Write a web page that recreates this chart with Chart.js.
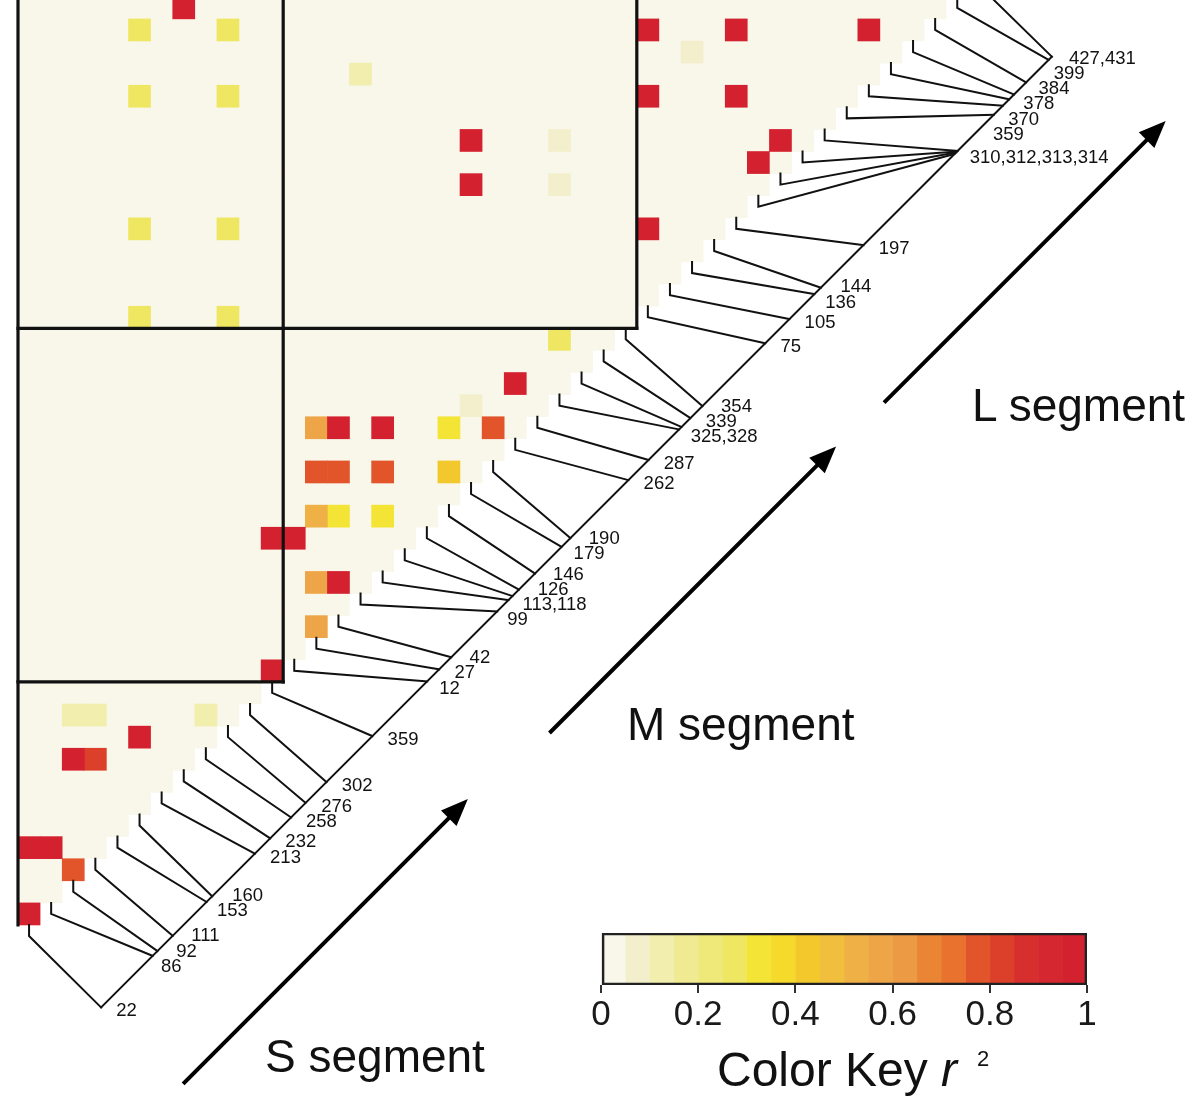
<!DOCTYPE html>
<html>
<head>
<meta charset="utf-8">
<title>LD heatmap</title>
<script src="https://cdn.jsdelivr.net/npm/chart.js@4.4.1/dist/chart.umd.min.js"></script>
<style>
  html, body { margin:0; padding:0; background:#ffffff; }
  #stage { position:relative; width:1200px; height:1099px; overflow:hidden;
           font-family:"Liberation Sans", Arial, Helvetica, sans-serif; color:#111; }
  #mainBox { position:absolute; left:0; top:0; width:1200px; height:1099px; }
  #keyBox { position:absolute; left:580px; top:925px; width:540px; height:112px; }
  .seg { position:absolute; font-size:46px; line-height:46px; white-space:nowrap; }
  #keyTitle { position:absolute; left:717px; top:1046px; font-size:48px; line-height:48px; white-space:nowrap; }
  #keyTitle sup { font-size:22px; line-height:22px; vertical-align:top; position:relative; top:2px; margin-left:20px; }
</style>
</head>
<body>
<div id="stage">
  <div id="mainBox"><canvas id="main"></canvas></div>
  <div id="keyBox"><canvas id="key"></canvas></div>
  <div class="seg" style="left:265px;top:1033px">S segment</div>
  <div class="seg" style="left:627px;top:701px">M segment</div>
  <div class="seg" style="left:972px;top:382px">L segment</div>
  <div id="keyTitle">Color Key <i>r</i><sup>2</sup></div>
</div>
<script>
// ---------------- DATA ----------------
const segmentNames = ['S', 'M', 'L'];
const sPositions = [22, 86, 92, 111, 153, 160, 213, 232, 258, 276, 302, 359];
const mPositions = [12, 27, 42, 99, 113, 118, 126, 146, 179, 190, 262, 287, 325, 328, 339, 354];
const lPositions = [75, 105, 136, 144, 197, 310, 312, 313, 314, 359, 370, 378, 384, 399, 427, 431];
// offset of each segment on the concatenated physical map
const segmentOffsets = [0, 415, 772];
// pairs of SNP indices (0-based, in S,M,L order) with non-zero r^2
const ldPairs = [
  [0, 1, 0.96], [2, 3, 0.79], [0, 4, 0.96], [1, 4, 0.96], [2, 8, 0.95], [3, 8, 0.81], [5, 9, 0.96],
  [2, 10, 0.12], [3, 10, 0.12], [8, 10, 0.12],
  [11, 12, 0.96], [11, 18, 0.96], [12, 18, 0.96],
  [13, 14, 0.56], [13, 16, 0.56], [14, 16, 0.96],
  [13, 19, 0.53], [14, 19, 0.32], [16, 19, 0.32],
  [13, 21, 0.77], [14, 21, 0.77], [16, 21, 0.77], [19, 21, 0.42],
  [13, 23, 0.56], [14, 23, 0.96], [16, 23, 0.96], [19, 23, 0.33], [21, 23, 0.77],
  [20, 24, 0.07], [22, 25, 0.96], [24, 27, 0.27],
  [5, 28, 0.27], [9, 28, 0.27], [5, 32, 0.27], [9, 32, 0.27], [5, 38, 0.27], [9, 38, 0.27],
  [5, 41, 0.27], [9, 41, 0.27], [7, 42, 0.96],
  [15, 39, 0.12], [20, 34, 0.96], [20, 36, 0.96], [24, 34, 0.07], [24, 36, 0.07],
  [28, 32, 0.96], [28, 38, 0.96], [28, 41, 0.96], [32, 38, 0.96], [32, 41, 0.96], [38, 41, 0.96],
  [30, 40, 0.07], [33, 35, 0.96], [34, 36, 0.96]
];
const keyTicks = [0, 0.2, 0.4, 0.6, 0.8, 1];
const keyColors = [
  '#f8f7ea', '#f3efcc', '#f2eeae', '#f0eb93', '#efe97a', '#efe662', '#f4e436', '#f5da2b', '#f2c82d', '#f1bf3d',
  '#efb045', '#eea548', '#ec9a44', '#e98534', '#e8722e', '#e2552b', '#dc402b', '#d72f2d', '#d5272f', '#d4212f'
];

// ---------------- LAYOUT CONSTANTS ----------------
const CELL = 22.1, ORIGIN_X = 18, ORIGIN_Y = 925, W = 1200, H = 1099;
const AXIS_OFFSET = { dx: 3.76, dy: -3.73 };   // genetic axis offset from the matrix diagonal (cell units)
const LINE_W = 2, BOX_W = 3.2;
const LABEL_SHIFT = 8, LABEL_GAP = 21.5, LABEL_DIST = 13.5;
const ARROWS = [ { a0: 4, a1: 23, p: 112 }, { a0: 50, a1: 66, p: 123 }, { a0: 42, a1: 35, p: 126 } ];

// ---------------- DERIVED ----------------
const segPositions = [sPositions, mPositions, lPositions];
const snps = [];
segPositions.forEach((arr, s) => arr.forEach(p => snps.push({ seg: s, pos: p, c: p + segmentOffsets[s] })));
const N = snps.length;
const cMin = snps[0].c, cMax = snps[N - 1].c;
const AXIS_LEN = 43.02;
function axisPoint(c) {
  const f = (c - cMin) / (cMax - cMin) * AXIS_LEN;
  return { x: AXIS_OFFSET.dx + f, y: AXIS_OFFSET.dy + f };
}
const r2 = {};
ldPairs.forEach(([i, j, v]) => { r2[i + ',' + j] = v; });
function colorFor(v) { return keyColors[Math.min(19, Math.floor(v * 20 + 1e-9))]; }

const cells = [];
for (let i = 0; i < N; i++) for (let j = i + 1; j < N; j++) {
  cells.push({ x: i + 0.5, y: j - 0.5, v: r2[i + ',' + j] || 0 });
}
cells.sort((a, b) => a.v - b.v);

// segment boundaries (index of first SNP of each later segment)
const bounds = [];
let acc = 0;
segPositions.forEach((arr, s) => { if (s > 0) bounds.push(acc); acc += arr.length; });

const lineDs = (pts, w) => ({ data: pts, showLine: true, borderColor: '#111', borderWidth: w,
  pointRadius: 0, pointHoverRadius: 0, fill: false, tension: 0, order: 0, borderCapStyle: 'square' });

const datasets = [];
// box outlines
datasets.push(lineDs([{ x: 0, y: 0 }, { x: 0, y: N }], BOX_W));
bounds.forEach(b => {
  datasets.push(lineDs([{ x: 0, y: b - 1 }, { x: b, y: b - 1 }], BOX_W));
  datasets.push(lineDs([{ x: b, y: b - 1 }, { x: b, y: N }], BOX_W));
});
// genetic axis
datasets.push(lineDs([axisPoint(cMin), axisPoint(cMax)], LINE_W));
// SNP tick lines
snps.forEach((s, k) => {
  datasets.push(lineDs([{ x: k + 0.5, y: k }, { x: k + 0.5, y: k - 0.5 }, axisPoint(s.c)], LINE_W));
});
// cells
datasets.push({
  data: cells, order: 10, pointStyle: 'rect', pointBorderWidth: 0, pointHoverRadius: 0,
  pointBackgroundColor: ctx => colorFor(ctx.raw ? ctx.raw.v : 0),
  pointRadius: ctx => {
    const sc = ctx.chart.scales.x;
    const side = Math.abs(sc.getPixelForValue(1) - sc.getPixelForValue(0)) + 0.6;
    return side / Math.SQRT2;
  }
});

// label groups (positions within 5 bp on same segment share a label)
const labelGroups = [];
snps.forEach((s, k) => {
  const last = labelGroups[labelGroups.length - 1];
  if (last && last.seg === s.seg && s.pos - last.lastPos <= 5) {
    last.text += ',' + s.pos; last.lastPos = s.pos;
  } else {
    labelGroups.push({ seg: s.seg, c: s.c, text: String(s.pos), lastPos: s.pos });
  }
});

function spread(ts, gap) {
  let cl = ts.map((t, i) => ({ idx: [i] }));
  const mean = c => c.idx.reduce((a, i) => a + ts[i], 0) / c.idx.length;
  let changed = true;
  while (changed) {
    changed = false;
    for (let i = 0; i < cl.length - 1; i++) {
      const a = cl[i], b = cl[i + 1];
      const aEnd = mean(a) + (a.idx.length - 1) * gap / 2;
      const bStart = mean(b) - (b.idx.length - 1) * gap / 2;
      if (bStart - aEnd < gap) {
        cl.splice(i, 2, { idx: a.idx.concat(b.idx) });
        changed = true; break;
      }
    }
  }
  const out = [];
  cl.forEach(c => { const m = mean(c); c.idx.forEach((i, j) => { out[i] = m - (c.idx.length - 1) * gap / 2 + j * gap; }); });
  return out;
}

const annotPlugin = {
  id: 'ldAnnot',
  afterDatasetsDraw(chart) {
    const { ctx } = chart, xs = chart.scales.x, ys = chart.scales.y;
    const px = p => ({ x: xs.getPixelForValue(p.x), y: ys.getPixelForValue(p.y) });
    const A = px(axisPoint(cMin)), B = px(axisPoint(cMax));
    const len = Math.hypot(B.x - A.x, B.y - A.y);
    const u = { x: (B.x - A.x) / len, y: (B.y - A.y) / len };
    const n = { x: -u.y, y: u.x };
    const tOf = c => { const P = px(axisPoint(c)); return (P.x - A.x) * u.x + (P.y - A.y) * u.y; };
    const ts = labelGroups.map(g => tOf(g.c) + LABEL_SHIFT);
    const laid = spread(ts, LABEL_GAP);
    ctx.save();
    ctx.font = '18.5px "Liberation Sans", Arial, sans-serif';
    ctx.fillStyle = '#111';
    ctx.textAlign = 'left';
    ctx.textBaseline = 'middle';
    labelGroups.forEach((g, i) => {
      const t = laid[i];
      ctx.fillText(g.text, A.x + u.x * t + n.x * LABEL_DIST, A.y + u.y * t + n.y * LABEL_DIST);
    });
    // segment arrows
    ctx.strokeStyle = '#000'; ctx.fillStyle = '#000'; ctx.lineWidth = 4;
    segPositions.forEach((arr, s) => {
      const cs = arr[0] + segmentOffsets[s], ce = arr[arr.length - 1] + segmentOffsets[s];
      const ts0 = tOf(cs) + ARROWS[s].a0, ts1 = tOf(ce) + ARROWS[s].a1, p = ARROWS[s].p;
      const S = { x: A.x + u.x * ts0 + n.x * p, y: A.y + u.y * ts0 + n.y * p };
      const E = { x: A.x + u.x * ts1 + n.x * p, y: A.y + u.y * ts1 + n.y * p };
      const hl = 27, hw = 11;
      ctx.beginPath();
      ctx.moveTo(S.x, S.y);
      ctx.lineTo(E.x - u.x * (hl - 4), E.y - u.y * (hl - 4));
      ctx.stroke();
      ctx.beginPath();
      ctx.moveTo(E.x, E.y);
      ctx.lineTo(E.x - u.x * hl + n.x * hw, E.y - u.y * hl + n.y * hw);
      ctx.lineTo(E.x - u.x * hl - n.x * hw, E.y - u.y * hl - n.y * hw);
      ctx.closePath();
      ctx.fill();
    });
    ctx.restore();
  }
};

new Chart(document.getElementById('main'), {
  type: 'scatter',
  data: { datasets },
  options: {
    responsive: true, maintainAspectRatio: false, animation: false, events: [],
    layout: { padding: 0 },
    plugins: { legend: { display: false }, tooltip: { enabled: false } },
    scales: {
      x: { type: 'linear', display: false, min: -ORIGIN_X / CELL, max: (W - ORIGIN_X) / CELL },
      y: { type: 'linear', display: false, min: (ORIGIN_Y - H) / CELL, max: ORIGIN_Y / CELL }
    }
  },
  plugins: [annotPlugin]
});

// ---------------- COLOR KEY ----------------
const keyDatasets = [{
  data: [[0, 1]], backgroundColor: 'rgba(0,0,0,0)', borderColor: '#222', borderWidth: 2,
  borderSkipped: false, barPercentage: 1, categoryPercentage: 1, order: 0, grouped: false
}];
keyColors.forEach((col, b) => keyDatasets.push({
  data: [[b / 20, (b + 1) / 20]], backgroundColor: col, borderWidth: 0,
  barPercentage: 1, categoryPercentage: 1, order: 1, grouped: false
}));

new Chart(document.getElementById('key'), {
  type: 'bar',
  data: { labels: ['r2'], datasets: keyDatasets },
  options: {
    indexAxis: 'y', responsive: true, maintainAspectRatio: false, animation: false, events: [],
    layout: { padding: { left: 21, right: 33, top: 8, bottom: 0 } },
    plugins: { legend: { display: false }, tooltip: { enabled: false } },
    scales: {
      y: { display: false },
      x: {
        type: 'linear', min: 0, max: 1,
        afterBuildTicks: axis => { axis.ticks = keyTicks.map(v => ({ value: v })); },
        ticks: { autoSkip: false, maxRotation: 0, padding: 1, color: '#1a1a1a',
                 font: { size: 35, family: '"Liberation Sans", Arial, sans-serif' },
                 callback: v => String(+v.toFixed(1)) },
        grid: { display: true, drawOnChartArea: false, drawTicks: true, tickLength: 8, color: '#333', lineWidth: 2 },
        border: { display: false }
      }
    }
  }
});
</script>
</body>
</html>
